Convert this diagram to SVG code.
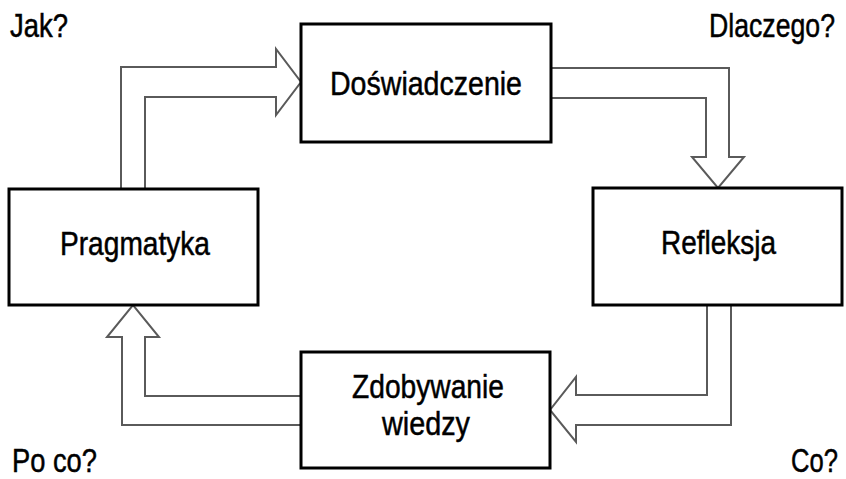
<svg xmlns="http://www.w3.org/2000/svg" width="846" height="479" viewBox="0 0 846 479">
  <style>
    .box { fill: #ffffff; stroke: #000000; stroke-width: 3; }
    .arrow { fill: #ffffff; stroke: #5a5a5a; stroke-width: 2; stroke-linejoin: miter; }
    .label { font-family: "Liberation Sans", Arial, sans-serif; font-size: 34px; fill: #000000; stroke: #000000; stroke-width: 0.5; }
  </style>
  <rect width="846" height="479" fill="#ffffff"/>

  <!-- hollow block arrows linking the four stages -->
  <g id="connectors">
    <path class="arrow" d="M121,189 L121,67 L276,67 L276,49 L301,82 L276,115 L276,97 L145,97 L145,189"/>
    <path class="arrow" d="M551,68 L729,68 L729,157 L744,157 L718,188 L692,157 L706,157 L706,98 L551,98"/>
    <path class="arrow" d="M731,305 L731,425 L576,425 L576,442 L550,410 L576,377 L576,395 L707,395 L707,305"/>
    <path class="arrow" d="M301,425 L122,425 L122,337 L107,337 L133,305 L159,337 L145,337 L145,396 L301,396"/>
  </g>

  <g id="doswiadczenie">
    <rect class="box" x="301" y="24" width="250" height="118"/>
    <text class="label" x="330" y="95" textLength="192" lengthAdjust="spacingAndGlyphs">Doświadczenie</text>
  </g>

  <g id="refleksja">
    <rect class="box" x="593" y="188" width="249" height="117"/>
    <text class="label" x="661" y="254" textLength="115" lengthAdjust="spacingAndGlyphs">Refleksja</text>
  </g>

  <g id="zdobywanie-wiedzy">
    <rect class="box" x="301" y="352" width="249" height="116"/>
    <text class="label" x="352" y="398" textLength="152" lengthAdjust="spacingAndGlyphs">Zdobywanie</text>
    <text class="label" x="382" y="435" textLength="88" lengthAdjust="spacingAndGlyphs">wiedzy</text>
  </g>

  <g id="pragmatyka">
    <rect class="box" x="9" y="189" width="249" height="116"/>
    <text class="label" x="60" y="255" textLength="150" lengthAdjust="spacingAndGlyphs">Pragmatyka</text>
  </g>

  <!-- corner questions, narrowed horizontally -->
  <g id="questions">
    <text class="label" transform="translate(10,37) scale(0.808,1)">Jak?</text>
    <text class="label" transform="translate(709,37) scale(0.785,1)">Dlaczego?</text>
    <text class="label" transform="translate(12,472) scale(0.803,1)">Po co?</text>
    <text class="label" transform="translate(791,472) scale(0.753,1)">Co?</text>
  </g>
</svg>
